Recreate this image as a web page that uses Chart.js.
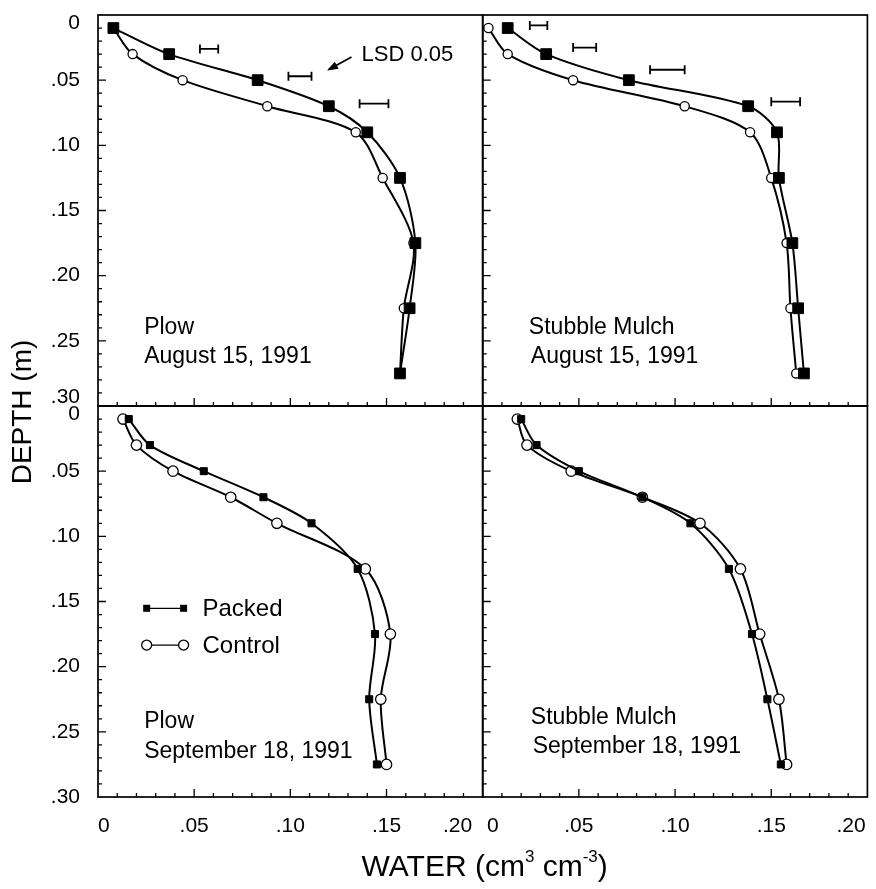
<!DOCTYPE html>
<html>
<head>
<meta charset="utf-8">
<script src="https://cdn.jsdelivr.net/npm/chart.js@4.4.1/dist/chart.umd.min.js"></script>
<style>
html,body{margin:0;padding:0;background:#fff;}
#wrap{position:relative;width:876px;height:889px;background:#fff;}
</style>
</head>
<body>
<div id="wrap"><canvas id="c" width="876" height="889"></canvas></div>
<script>
// ---------------- DATA ----------------
const depths = [0.01, 0.03, 0.05, 0.07, 0.09, 0.125, 0.175, 0.225, 0.275];

const plowAugPacked   = [0.008, 0.037, 0.083, 0.120, 0.140, 0.157, 0.165, 0.162, 0.157];
const plowAugControl  = [0.008, 0.018, 0.044, 0.088, 0.134, 0.148, 0.164, 0.159, 0.157];
const mulchAugPacked  = [0.013, 0.033, 0.076, 0.138, 0.153, 0.154, 0.161, 0.164, 0.167];
const mulchAugControl = [0.003, 0.013, 0.047, 0.105, 0.139, 0.150, 0.158, 0.160, 0.163];
const plowSepPacked   = [0.016, 0.027, 0.055, 0.086, 0.111, 0.135, 0.144, 0.141, 0.145];
const plowSepControl  = [0.013, 0.020, 0.039, 0.069, 0.093, 0.139, 0.152, 0.147, 0.150];
const mulchSepPacked  = [0.020, 0.028, 0.050, 0.083, 0.108, 0.128, 0.140, 0.148, 0.155];
const mulchSepControl = [0.018, 0.023, 0.046, 0.083, 0.113, 0.134, 0.144, 0.154, 0.158];

// LSD 0.05 bars (depth, low end, high end)
const plowAugLsdDepth  = [0.026, 0.047, 0.068];
const plowAugLsdLow    = [0.053, 0.099, 0.136];
const plowAugLsdHigh   = [0.0625, 0.111, 0.151];
const mulchAugLsdDepth = [0.008, 0.025, 0.042, 0.0665];
const mulchAugLsdLow   = [0.0245, 0.047, 0.087, 0.150];
const mulchAugLsdHigh  = [0.0336, 0.059, 0.105, 0.165];

const seriesNames = ['Packed', 'Control'];
const panelTitles = ['Plow', 'Stubble Mulch', 'Plow', 'Stubble Mulch'];
const panelDates  = ['August 15, 1991', 'August 15, 1991', 'September 18, 1991', 'September 18, 1991'];
const lsdLabel = 'LSD 0.05';
const xTitle = ['WATER (cm', '3', ' cm', '-3', ')'];
const yTitle = 'DEPTH (m)';
const xTickValues = [0, 0.05, 0.10, 0.15, 0.20];
const yTickValues = [0, 0.05, 0.10, 0.15, 0.20, 0.25, 0.30];

// ---------------- LAYOUT / STYLE ----------------
const FONT = "'Liberation Sans', Arial, Helvetica, sans-serif";
const panelAxes = [['xL','yT'], ['xR','yT'], ['xL','yB'], ['xR','yB']];
// annotation anchors in data units of each panel
const textAnchors = [
  {tx: 0.024, ty: 0.240, dx: 0.024, dy: 0.2625},
  {tx: 0.024, ty: 0.240, dx: 0.025, dy: 0.2625},
  {tx: 0.024, ty: 0.242, dx: 0.024, dy: 0.265},
  {tx: 0.025, ty: 0.2395, dx: 0.026, dy: 0.2615}
];
const lsdTextAnchor = {x: 0.137, y: 0.0307};
const arrowAnchor = {x1: 0.1318, y1: 0.0322, x2: 0.1200, y2: 0.0418};
const legendAnchor = {x1: 0.0253, x2: 0.0445, xt: 0.0543, y: [0.1552, 0.1834]};

function fmt(v) {
  if (Math.abs(v) < 1e-9) return '0';
  return '.' + String(Math.round(v * 100)).padStart(2, '0');
}
function series(vals) { return vals.map((v, i) => ({x: v, y: depths[i]})); }
function lsdPoints(d, lo, hi) {
  const out = [];
  d.forEach((dd, i) => {
    out.push({x: lo[i], y: dd}, {x: hi[i], y: dd});
    if (i < d.length - 1) out.push({x: null, y: null});
  });
  return out;
}

const panelSeries = [
  [plowAugPacked, plowAugControl],
  [mulchAugPacked, mulchAugControl],
  [plowSepPacked, plowSepControl],
  [mulchSepPacked, mulchSepControl]
];

const datasets = [];
// packed first (drawn on top)
panelSeries.forEach((s, p) => {
  const top = p < 2;
  datasets.push({
    label: seriesNames[0], data: series(s[0]),
    xAxisID: panelAxes[p][0], yAxisID: panelAxes[p][1],
    borderColor: '#000', borderWidth: 2, tension: 0.3, fill: false,
    pointStyle: 'rect', pointRadius: top ? 7.6 : 5,
    pointBackgroundColor: '#000', pointBorderColor: '#000', pointBorderWidth: 1
  });
});
panelSeries.forEach((s, p) => {
  const top = p < 2;
  datasets.push({
    label: seriesNames[1], data: series(s[1]),
    xAxisID: panelAxes[p][0], yAxisID: panelAxes[p][1],
    borderColor: '#000', borderWidth: 2, tension: 0.3, fill: false,
    pointStyle: 'circle', pointRadius: top ? 4.6 : 5.2,
    pointBackgroundColor: '#fff', pointBorderColor: '#000', pointBorderWidth: 1.3
  });
});
datasets.push({
  label: lsdLabel, data: lsdPoints(plowAugLsdDepth, plowAugLsdLow, plowAugLsdHigh),
  xAxisID: 'xL', yAxisID: 'yT', showLine: true, spanGaps: false, tension: 0,
  borderColor: '#000', borderWidth: 1.8, pointStyle: 'line', pointRotation: 90,
  pointRadius: 4.5, pointBorderColor: '#000', pointBorderWidth: 1.8
});
datasets.push({
  label: lsdLabel, data: lsdPoints(mulchAugLsdDepth, mulchAugLsdLow, mulchAugLsdHigh),
  xAxisID: 'xR', yAxisID: 'yT', showLine: true, spanGaps: false, tension: 0,
  borderColor: '#000', borderWidth: 1.8, pointStyle: 'line', pointRotation: 90,
  pointRadius: 4.5, pointBorderColor: '#000', pointBorderWidth: 1.8
});

function xScale(isLeft) {
  return {
    type: 'linear', position: 'bottom', stack: 'xs', stackWeight: 1,
    min: 0, max: 0.20, offset: false,
    grid: {display: false, drawTicks: false}, border: {display: false},
    afterBuildTicks: s => { s.ticks = xTickValues.map(v => ({value: v})); },
    ticks: {
      autoSkip: false, maxRotation: 0, align: 'inner', padding: 17, color: '#000',
      font: {family: FONT, size: 21},
      callback: v => {
        if (isLeft && Math.abs(v - 0.20) < 1e-9) return fmt(v) + '\u2002';
        if (!isLeft && Math.abs(v) < 1e-9) return '\u2009' + fmt(v);
        if (!isLeft && Math.abs(v - 0.20) < 1e-9) return fmt(v) + '\u200A';
        return fmt(v);
      }
    },
    afterFit: s => { s.height = 92; s.paddingLeft = 0; s.paddingRight = 0; }
  };
}
function yScale(isTop) {
  return {
    type: 'linear', position: 'left', stack: 'ys', stackWeight: 1,
    min: 0, max: 0.30, reverse: true, offset: false,
    grid: {display: false, drawTicks: false}, border: {display: false},
    afterBuildTicks: s => { s.ticks = yTickValues.map(v => ({value: v})); },
    ticks: {
      autoSkip: false, padding: 18, color: '#000',
      font: {family: FONT, size: 21, lineHeight: 0.8},
      callback: v => {
        if (Math.abs(v) < 1e-9) return ['', '0'];
        if (isTop && Math.abs(v - 0.30) < 1e-9) return ['.30', ''];
        return fmt(v);
      }
    },
    afterFit: s => { s.width = 98; s.paddingTop = 0; s.paddingBottom = 0; }
  };
}

const decorPlugin = {
  id: 'decor',
  beforeDatasetsDraw(chart) {
    const ctx = chart.ctx;
    ctx.save();
    ctx.strokeStyle = '#000';
    panelAxes.forEach(([xi, yi]) => {
      const xs = chart.scales[xi], ys = chart.scales[yi];
      const l = xs.getPixelForValue(0), r = xs.getPixelForValue(0.20);
      const t = ys.getPixelForValue(0), b = ys.getPixelForValue(0.30);
      ctx.lineWidth = 1.7;
      ctx.strokeRect(l, t, r - l, b - t);
      ctx.lineWidth = 1.3;
      ctx.beginPath();
      for (let i = 1; i < 20; i++) {
        const px = xs.getPixelForValue(i / 100);
        const len = i % 5 === 0 ? 8 : 4;
        ctx.moveTo(px, b); ctx.lineTo(px, b - len);
      }
      for (let i = 1; i < 30; i++) {
        const py = ys.getPixelForValue(i / 100);
        const len = i % 5 === 0 ? 8 : 4;
        ctx.moveTo(l, py); ctx.lineTo(l + len, py);
      }
      ctx.stroke();
    });
    ctx.restore();
  },
  afterDraw(chart) {
    const ctx = chart.ctx;
    const ca = chart.chartArea;
    ctx.save();
    ctx.fillStyle = '#000';
    ctx.strokeStyle = '#000';
    ctx.textBaseline = 'middle';
    ctx.textAlign = 'left';
    // panel labels
    ctx.font = '23px ' + FONT;
    panelAxes.forEach(([xi, yi], p) => {
      const xs = chart.scales[xi], ys = chart.scales[yi], a = textAnchors[p];
      ctx.fillText(panelTitles[p], xs.getPixelForValue(a.tx), ys.getPixelForValue(a.ty));
      ctx.fillText(panelDates[p], xs.getPixelForValue(a.dx), ys.getPixelForValue(a.dy));
    });
    // LSD label and arrow
    const xL = chart.scales.xL, yT = chart.scales.yT, yB = chart.scales.yB;
    ctx.font = '22px ' + FONT;
    ctx.fillText(lsdLabel, xL.getPixelForValue(lsdTextAnchor.x), yT.getPixelForValue(lsdTextAnchor.y));
    const ax1 = xL.getPixelForValue(arrowAnchor.x1), ay1 = yT.getPixelForValue(arrowAnchor.y1);
    const ax2 = xL.getPixelForValue(arrowAnchor.x2), ay2 = yT.getPixelForValue(arrowAnchor.y2);
    ctx.lineWidth = 1.8;
    ctx.beginPath(); ctx.moveTo(ax1, ay1); ctx.lineTo(ax2, ay2); ctx.stroke();
    const ang = Math.atan2(ay2 - ay1, ax2 - ax1), hl = 9, hw = 4;
    ctx.beginPath();
    ctx.moveTo(ax2 + 2 * Math.cos(ang), ay2 + 2 * Math.sin(ang));
    ctx.lineTo(ax2 - hl * Math.cos(ang) + hw * Math.sin(ang), ay2 - hl * Math.sin(ang) - hw * Math.cos(ang));
    ctx.lineTo(ax2 - hl * Math.cos(ang) - hw * Math.sin(ang), ay2 - hl * Math.sin(ang) + hw * Math.cos(ang));
    ctx.closePath(); ctx.fill();
    // legend (bottom-left panel)
    ctx.font = '24px ' + FONT;
    const lx1 = xL.getPixelForValue(legendAnchor.x1), lx2 = xL.getPixelForValue(legendAnchor.x2);
    const ltx = xL.getPixelForValue(legendAnchor.xt);
    seriesNames.forEach((name, k) => {
      const ly = yB.getPixelForValue(legendAnchor.y[k]);
      ctx.lineWidth = 1.3;
      ctx.beginPath(); ctx.moveTo(lx1, ly); ctx.lineTo(lx2, ly); ctx.stroke();
      [lx1, lx2].forEach(px => {
        if (k === 0) {
          ctx.fillRect(px - 3.5, ly - 3.5, 7, 7);
        } else {
          ctx.beginPath(); ctx.arc(px, ly, 5, 0, Math.PI * 2);
          ctx.fillStyle = '#fff'; ctx.fill(); ctx.fillStyle = '#000';
          ctx.lineWidth = 1.3; ctx.stroke();
        }
      });
      ctx.fillText(name, ltx, ly + 1);
    });
    // y axis title
    ctx.font = '28px ' + FONT;
    ctx.save();
    ctx.translate(ca.left - 75, (ca.top + ca.bottom) / 2 + 6);
    ctx.rotate(-Math.PI / 2);
    ctx.textAlign = 'center';
    ctx.fillText(yTitle, 0, 0);
    ctx.restore();
    // x axis title with superscripts
    const big = '30px ' + FONT, small = '17px ' + FONT;
    const parts = xTitle.map((t, i) => ({t, sup: i % 2 === 1}));
    let total = 0;
    parts.forEach(pt => { ctx.font = pt.sup ? small : big; pt.w = ctx.measureText(pt.t).width; total += pt.w; });
    let cx = (ca.left + ca.right) / 2 - total / 2 + 2;
    const cy = ca.bottom + 71;
    ctx.textAlign = 'left';
    parts.forEach(pt => {
      ctx.font = pt.sup ? small : big;
      ctx.fillText(pt.t, cx, pt.sup ? cy - 11 : cy);
      cx += pt.w;
    });
    ctx.restore();
  }
};

new Chart(document.getElementById('c'), {
  type: 'line',
  data: {datasets},
  options: {
    responsive: false, animation: false, events: [],
    layout: {padding: {left: 0, top: 15, right: 4, bottom: 0}},
    plugins: {legend: {display: false}, tooltip: {enabled: false}, title: {display: false}},
    scales: {
      xL: xScale(true),
      xR: xScale(false),
      yB: yScale(false),
      yT: yScale(true)
    }
  },
  plugins: [decorPlugin]
});
</script>
</body>
</html>
